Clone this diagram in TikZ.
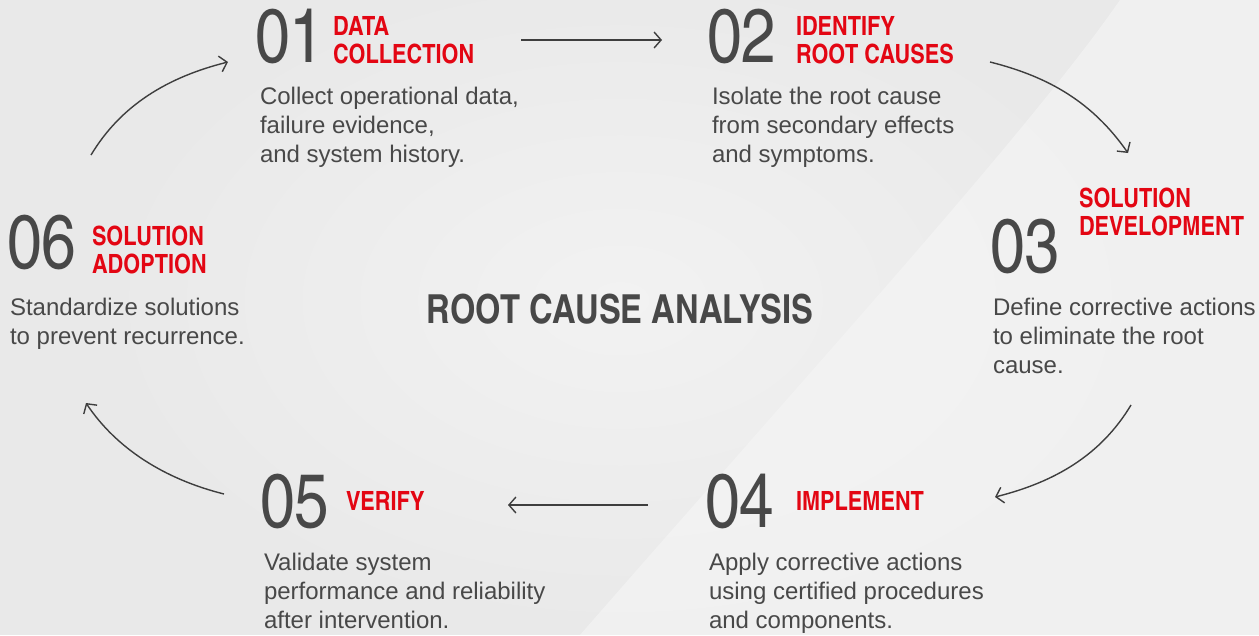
\documentclass[tikz,border=0pt]{standalone}
\usepackage{fontspec}
\setmainfont{Liberation Sans}
\newfontfamily\cnfont[BoldFont=texgyreheroscn-bold.otf]{texgyreheroscn-regular.otf}
\usepackage{xcolor}
\usepackage{tikz}
\usetikzlibrary{arrows.meta}

\definecolor{rcared}{RGB}{227,6,19}
\definecolor{txtgray}{RGB}{72,72,72}
\definecolor{arrgray}{RGB}{62,62,62}
\definecolor{bggray}{RGB}{233,233,233}
\definecolor{bgmid}{RGB}{242,242,242}
\definecolor{bglight}{RGB}{246,246,246}

\begin{document}
\begin{tikzpicture}[x=1pt, y=-1pt,
  every node/.style={inner sep=0pt, outer sep=0pt},
  num/.style={anchor=base west, font=\cnfont\fontsize{76}{76}\selectfont, text=txtgray},
  ttl/.style={anchor=base west, align=left, font=\cnfont\bfseries\fontsize{26.5}{27.5}\selectfont, text=rcared},
  desc/.style={anchor=base west, align=left, font=\fontsize{24}{29}\selectfont, text=txtgray},
  flow/.style={arrgray, line width=1.4pt, -{Straight Barb[length=7pt,width=16pt]}}
]
\useasboundingbox (0,0) rectangle (1259,635);
% background
\begin{scope}
\clip (0,0) rectangle (1259,635);
\fill[bggray] (0,0) rectangle (1259,635);
\shade[inner color=bgmid, outer color=bggray] (620,300) ellipse (520 and 330);
\fill[bglight, opacity=0.6] (1120,0) .. controls (1030,130) and (820,360) .. (580,635) -- (1259,635) -- (1259,0) -- cycle;
\end{scope}

\node[anchor=base, font=\cnfont\bfseries\fontsize{40}{40}\selectfont, text=txtgray] (rca) at (620,323) {ROOT CAUSE ANALYSIS};

% 01
\node[num] (n01) at (255,62) {01};
\node[ttl] (t01) at (333,63) {DATA\\COLLECTION};
\node[desc] (d01) at (260,162) {Collect operational data,\\failure evidence,\\and system history.};

% 02
\node[num] (n02) at (707,62) {02};
\node[ttl] (t02) at (796,63) {IDENTIFY\\ROOT CAUSES};
\node[desc] (d02) at (712,162) {Isolate the root cause\\from secondary effects\\and symptoms.};

% 03
\node[num] (n03) at (990,272) {03};
\node[ttl] (t03) at (1079,235) {SOLUTION\\DEVELOPMENT};
\node[desc] (d03) at (993,373) {Define corrective actions\\to eliminate the root\\cause.};

% 04
\node[num] (n04) at (705,527) {04};
\node[ttl] (t04) at (796,510) {IMPLEMENT};
\node[desc] (d04) at (709,628) {Apply corrective actions\\using certified procedures\\and components.};

% 05
\node[num] (n05) at (260,527) {05};
\node[ttl] (t05) at (346,510) {VERIFY};
\node[desc] (d05) at (264,628) {Validate system\\performance and reliability\\after intervention.};

% 06
\node[num] (n06) at (7,268) {06};
\node[ttl] (t06) at (92,273) {SOLUTION\\ADOPTION};
\node[desc] (d06) at (10,344) {Standardize solutions\\to prevent recurrence.};

% arrow ends
\coordinate (a1s) at (521,40);  \coordinate (a1e) at (662,40);
\coordinate (a2s) at (990,62);  \coordinate (a2e) at (1128,153);
\coordinate (a3s) at (1131,405); \coordinate (a3e) at (995,497);
\coordinate (a4s) at (648,505); \coordinate (a4e) at (508,505);
\coordinate (a5s) at (224,494); \coordinate (a5e) at (86,403);
\coordinate (a6s) at (91,155);  \coordinate (a6e) at (228,62);

\draw[flow] (a1s) -- (a1e);
\draw[flow] (a2s) .. controls +(60,15) and +(-35,-50) .. (a2e);
\draw[flow] (a3s) .. controls +(-30,50) and +(60,-15) .. (a3e);
\draw[flow] (a4s) -- (a4e);
\draw[flow] (a5s) .. controls +(-60,-15) and +(30,45) .. (a5e);
\draw[flow] (a6s) .. controls +(30,-50) and +(-60,15) .. (a6e);
\end{tikzpicture}
\end{document}
